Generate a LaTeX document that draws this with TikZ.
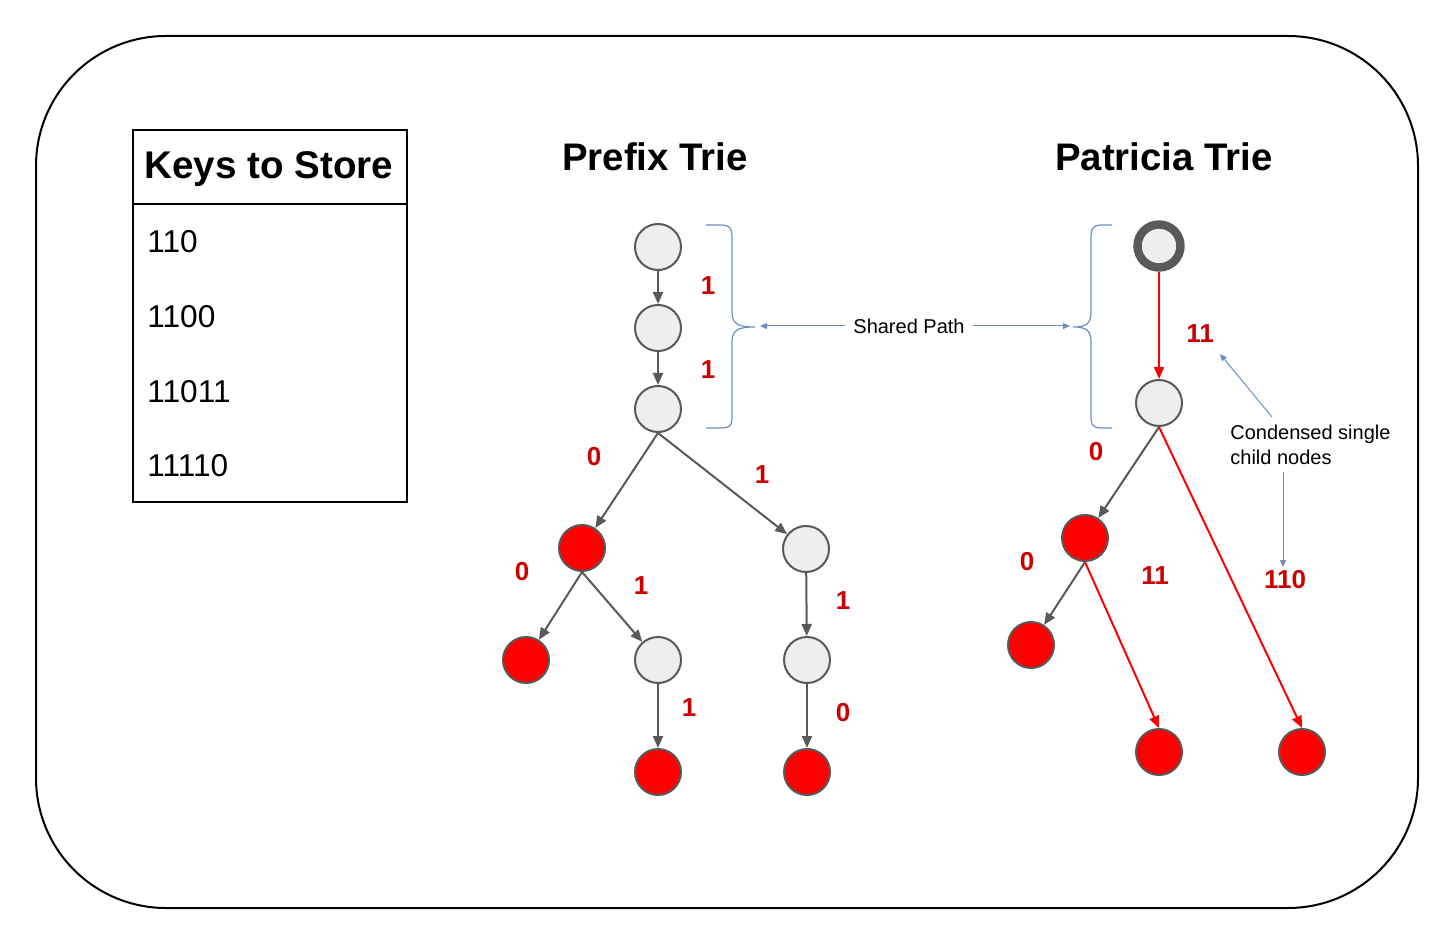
\documentclass[tikz,border=0pt]{standalone}
\usepackage{fontspec}
\setmainfont{Liberation Sans}
\usetikzlibrary{arrows.meta}
\definecolor{ngrey}{HTML}{EEEEEE}
\definecolor{nborder}{HTML}{595959}
\definecolor{lblred}{HTML}{CC0000}
\definecolor{bluec}{HTML}{6C8EBF}
\begin{document}
\begin{tikzpicture}[x=0.5pt,y=-0.5pt,
  gnode/.style={circle,draw=nborder,fill=ngrey,line width=1pt,minimum size=23pt,inner sep=0pt},
  rnode/.style={circle,draw=nborder,fill=red,line width=1pt,minimum size=23pt,inner sep=0pt},
  rootnode/.style={circle,draw=nborder,fill=ngrey,line width=4.2pt,minimum size=21.5pt,inner sep=0pt},
  gedge/.style={draw=nborder,line width=1pt,-{Triangle[length=6pt,width=5pt]}},
  redge/.style={draw=red,line width=1pt,-{Triangle[length=6pt,width=5pt]}},
  bedge/.style={draw=bluec,line width=0.5pt,-{Triangle[length=3.5pt,width=3pt]}},
  brace/.style={draw=bluec,line width=0.6pt},
  elbl/.style={text=lblred,font=\fontsize{13}{15}\selectfont\bfseries,inner sep=0pt},
  title/.style={font=\fontsize{19.2}{23}\selectfont\bfseries,inner sep=0pt},
  keytxt/.style={font=\fontsize{15.8}{18}\selectfont,anchor=west,inner sep=0pt},
  note/.style={font=\fontsize{10}{12}\selectfont,inner sep=0pt}
]
\useasboundingbox (0,0) rectangle (1456,946);
\draw[line width=1pt,rounded corners=65pt] (36,36) rectangle (1418,908);

% Keys table
\draw[line width=1pt] (133,130) rectangle (407,502);
\draw[line width=1pt] (133,204) -- (407,204);
\node[title,font=\fontsize{19.3}{23}\selectfont\bfseries] (ktitle) at (269,169) {Keys to Store};
\node[keytxt] (k1) at (147,242) {110};
\node[keytxt] (k2) at (147,317) {1100};
\node[keytxt] (k3) at (147,392) {11011};
\node[keytxt] (k4) at (147,466) {11110};

% Titles
\node[title] (pt) at (655,157) {Prefix Trie};
\node[title] (pat) at (1164,157) {Patricia Trie};

% Prefix trie nodes
\node[gnode] (p1) at (658,247) {};
\node[gnode] (p2) at (658,328) {};
\node[gnode] (p3) at (658,409) {};
\node[rnode] (p4) at (582,548) {};
\node[gnode] (p5) at (806,549) {};
\node[rnode] (p6) at (526,660) {};
\node[gnode] (p7) at (658,660) {};
\node[gnode] (p8) at (807,660) {};
\node[rnode] (p9) at (658,772) {};
\node[rnode] (p10) at (807,772) {};

\draw[gedge] (p1) -- (p2);
\draw[gedge] (p2) -- (p3);
\draw[gedge] (p3.south) -- (p4);
\draw[gedge] (p3.south) -- (p5);
\draw[gedge] (p4.south) -- (p6);
\draw[gedge] (p4.south) -- (p7);
\draw[gedge] (p5) -- (p8);
\draw[gedge] (p7) -- (p9);
\draw[gedge] (p8) -- (p10);

\node[elbl] (l1) at (708,286) {1};
\node[elbl] (l2) at (708,370) {1};
\node[elbl] (l3) at (594,457) {0};
\node[elbl] (l4) at (762,475) {1};
\node[elbl] (l5) at (522,572) {0};
\node[elbl] (l6) at (641,586) {1};
\node[elbl] (l7) at (843,601) {1};
\node[elbl] (l8) at (689,708) {1};
\node[elbl] (l9) at (843,713) {0};

% Prefix brace
\coordinate (bt1) at (755,327);
\draw[brace] (706,225) -- (720,225) .. controls (732,225) and (732,230) .. (732,240)
  -- (732,312) .. controls (732,324) and (738,327) .. (bt1)
  .. controls (738,327) and (732,330) .. (732,342) -- (732,414)
  .. controls (732,424) and (732,428) .. (720,428) -- (706,428);

% Patricia brace
\coordinate (bt2) at (1073,327);
\draw[brace] (1112,225) -- (1102,225) .. controls (1091,225) and (1091,230) .. (1091,240)
  -- (1091,312) .. controls (1091,324) and (1086,327) .. (bt2)
  .. controls (1086,327) and (1091,330) .. (1091,342) -- (1091,414)
  .. controls (1091,424) and (1091,428) .. (1102,428) -- (1112,428);

% Shared Path
\node[note] (sp) at (909,326) {Shared Path};
\coordinate (spl) at (760,326);
\coordinate (spr) at (1070,326);
\draw[bedge] (sp.west) ++(-8,0) -- (spl);
\draw[bedge] (sp.east) ++(8,0) -- (spr);

% Patricia trie nodes
\node[rootnode] (q1) at (1159,246) {};
\node[gnode] (q2) at (1159,403) {};
\node[rnode] (q3) at (1085,538) {};
\node[rnode] (q4) at (1031,645) {};
\node[rnode] (q5) at (1159,752) {};
\node[rnode] (q6) at (1302,752) {};

\draw[redge] (q1) -- (q2);
\draw[gedge] (q2.south) -- (q3);
\draw[redge] (q2.south) -- (q6.north);
\draw[gedge] (q3.south) -- (q4);
\draw[redge] (q3.south) -- (q5.north);

\node[elbl] (m1) at (1200,334) {11};
\node[elbl] (m2) at (1096,452) {0};
\node[elbl] (m3) at (1027,562) {0};
\node[elbl] (m4) at (1155,576) {11};
\node[elbl] (m5) at (1285,580) {110};

% Condensed note
\node[note,align=left,anchor=north west,font=\fontsize{10}{12.5}\selectfont] (cn) at (1230,425) {Condensed single\\child nodes};
\coordinate (ca) at (1272,417);
\coordinate (cat) at (1220,354);
\draw[bedge] (ca) -- (cat);
\coordinate (cb) at (1283,472);
\coordinate (cbt) at (1283,567);
\draw[bedge] (cb) -- (cbt);
\end{tikzpicture}
\end{document}
